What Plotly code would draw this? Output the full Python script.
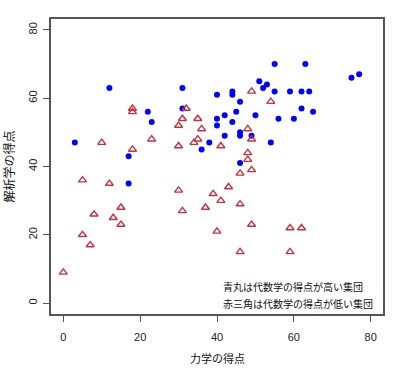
import plotly.graph_objects as go

# 青丸: 代数学の得点が高い集団
blue_x = [12, 22, 23, 3, 17, 55, 51, 53, 52, 55, 31, 44, 44, 40, 46, 31, 42, 45, 40, 50, 56,
          40, 44, 46, 46, 42, 49, 38, 54, 36, 46, 63, 75, 77, 59, 62, 64, 62, 65, 60, 17]
blue_y = [63, 56, 53, 47, 43, 70, 65, 64, 63, 62, 63, 62, 61, 61, 59, 57, 55, 56, 54, 55, 54,
          52, 53, 50, 49, 49, 49, 47, 47, 45, 41, 70, 66, 67, 62, 62, 62, 57, 56, 54, 35]

# 赤三角: 代数学の得点が低い集団
red_x = [18, 18, 10, 23, 18, 49, 54, 32, 31, 35, 30, 36, 48, 49, 35, 34, 30, 41, 48, 48, 49, 46,
         5, 12, 15, 8, 13, 15, 5, 7, 0, 43, 30, 39, 41, 46, 37, 31, 49, 40, 46, 59, 62, 59]
red_y = [57, 56, 47, 48, 45, 62, 59, 57, 54, 54, 52, 51, 51, 48, 48, 47, 46, 46, 44, 42, 39, 38,
         36, 35, 28, 26, 25, 23, 20, 17, 9, 34, 33, 32, 30, 29, 28, 27, 23, 21, 15, 22, 22, 15]

tick_vals = [0, 20, 40, 60, 80]
x_title = "力学の得点"
y_title = "解析学の得点"
legend_lines = ["青丸は代数学の得点が高い集団", "赤三角は代数学の得点が低い集団"]

cjk = "Noto Sans CJK JP, Liberation Sans, sans-serif"
num_font = "Liberation Sans, Arial, sans-serif"

fig = go.Figure()
fig.add_trace(go.Scatter(
    x=blue_x, y=blue_y, mode="markers",
    marker=dict(symbol="circle", size=6, color="#0000FF", line=dict(width=0)),
    showlegend=False, hoverinfo="x+y"))
fig.add_trace(go.Scatter(
    x=red_x, y=red_y, mode="markers",
    marker=dict(symbol="triangle-up-open", size=7, color="#C83040", line=dict(width=1.4, color="#C83040")),
    showlegend=False, hoverinfo="x+y"))

axis_common = dict(
    range=[-3.2, 83.2], tickvals=tick_vals, showgrid=False, zeroline=False,
    showline=True, mirror=True, linecolor="#555555", linewidth=1.5,
    ticks="outside", ticklen=6, tickcolor="#555555", tickwidth=1,
    tickfont=dict(family=num_font, size=11, color="#222222"),
    automargin=False,
)

fig.update_layout(
    width=403, height=371,
    margin=dict(l=51, r=20, t=19, b=57),
    paper_bgcolor="white", plot_bgcolor="white",
    xaxis=dict(**axis_common, ticklabelstandoff=6),
    yaxis=dict(**axis_common, tickangle=-90, ticklabelstandoff=2),
)

# axis titles
fig.add_annotation(text=x_title, xref="paper", yref="paper", x=0.5, y=0,
                   xanchor="center", yanchor="middle", yshift=-44, showarrow=False,
                   font=dict(family=cjk, size=11, color="#111111"))
fig.add_annotation(text=y_title, xref="paper", yref="paper", x=0, y=0.5,
                   xanchor="center", yanchor="middle", xshift=-43, textangle=-90,
                   showarrow=False, font=dict(family=cjk, size=12, color="#111111"))

# legend text
fig.add_annotation(text=legend_lines[0], xref="x", yref="y", x=41.0, y=4.9,
                   xanchor="left", yanchor="middle", showarrow=False,
                   font=dict(family=cjk, size=10, color="#111111"))
fig.add_annotation(text=legend_lines[1], xref="x", yref="y", x=41.0, y=-0.15,
                   xanchor="left", yanchor="middle", showarrow=False,
                   font=dict(family=cjk, size=10, color="#111111"))

# remove the page's default 8px body margin so the figure fills the window
fig.write_html("out.html", config={"displayModeBar": False},
               post_script="document.body.style.margin='0';")
